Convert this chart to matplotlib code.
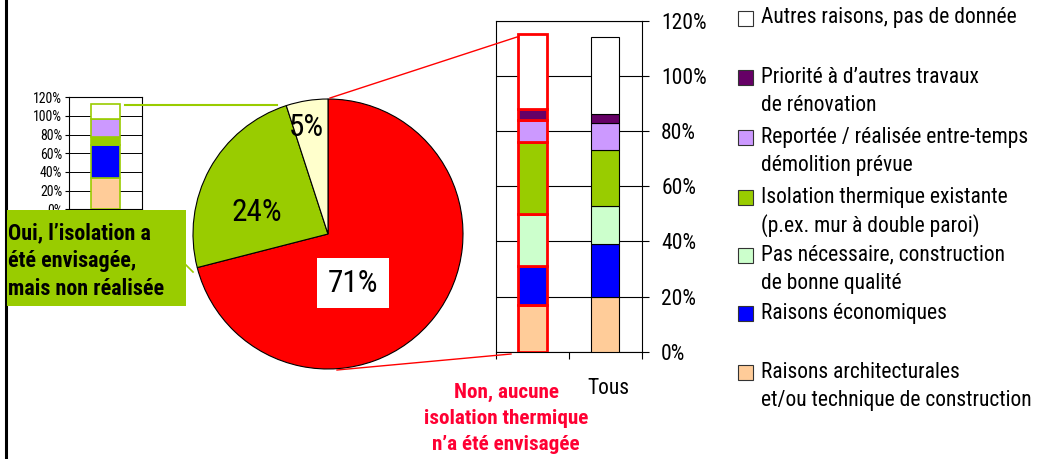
import matplotlib
matplotlib.use("Agg")
import matplotlib.pyplot as plt
from matplotlib import font_manager as fm
from matplotlib.patches import Rectangle
from matplotlib.lines import Line2D

# ---------------- data ----------------
pie_values = [71, 24, 5]
pie_colors = ['#FF0000', '#99CC00', '#FFFFCC']
pie_texts = ['71%', '24%', '5%']

reasons = [
    "Raisons architecturales\net/ou technique de construction",
    "Raisons économiques",
    "Pas nécessaire, construction\nde bonne qualité",
    "Isolation thermique existante\n(p.ex. mur à double paroi)",
    "Reportée / réalisée entre-temps\ndémolition prévue",
    "Priorité à d’autres travaux\nde rénovation",
    "Autres raisons, pas de donnée",
]
reason_colors = ['#FFCC99', '#0000FF', '#CCFFCC', '#99CC00', '#CC99FF', '#660066', '#FFFFFF']

categories = ['Non', 'Tous']
non_values = [17, 14, 19, 26, 8, 4, 27]
tous_values = [20, 19, 14, 20, 10, 3, 28]
oui_values = [34, 35, 0, 8, 20, 0, 16]

yticks = [0, 20, 40, 60, 80, 100, 120]
ytick_labels = ['0%', '20%', '40%', '60%', '80%', '100%', '120%']

non_label = ["Non, aucune", "isolation thermique", "n’a été envisagée"]
oui_label = ["Oui, l’isolation a", "été envisagée,", "mais non réalisée"]

# ---------------- fonts ----------------
names = {f.name for f in fm.fontManager.ttflist}
FONT = None
SC = 1.0
for cand in ['Liberation Sans Narrow', 'Arial Narrow', 'Roboto Condensed',
             'Nimbus Sans Narrow', 'Open Sans Condensed']:
    if cand in names:
        FONT = dict(family=cand)
        break
if FONT is None:
    cond = [f for f in fm.fontManager.ttflist
            if f.name == 'DejaVu Sans' and str(f.stretch) in ('condensed', 'semi-condensed', '75', '87')]
    if cond:
        FONT = dict(family='DejaVu Sans', stretch='condensed')
        SC = 0.88
    else:
        FONT = dict(family='Liberation Sans')
        SC = 0.85


def fs(v):
    return v * SC


W, H = 1042, 459
fig = plt.figure(figsize=(W / 100, H / 100), dpi=100)
fig.patch.set_facecolor('white')


def ax_px(x0, y0, x1, y1, **kw):
    return fig.add_axes([x0 / W, 1 - y1 / H, (x1 - x0) / W, (y1 - y0) / H], **kw)


def fx(x):
    return x / W


def fy(y):
    return 1 - y / H


# ---------------- small bar chart (Oui) ----------------
axs = ax_px(69.3, 97.3, 141.7, 209.3)
bottom = 0
for v, c in zip(oui_values, reason_colors):
    if v > 0:
        axs.bar(0, v, width=0.4, bottom=bottom, color=c, edgecolor='#99CC00', linewidth=1.2, zorder=3)
    bottom += v
axs.set_xlim(-0.5, 0.5)
axs.set_ylim(0, 120)
axs.set_yticks(yticks)
axs.set_yticklabels(ytick_labels, fontsize=fs(10), **FONT)
axs.set_xticks([])
axs.tick_params(axis='y', length=3, width=0.8, pad=2, colors='black')
for y in yticks:
    axs.axhline(y, color='black', linewidth=0.7, zorder=1)
for s in axs.spines.values():
    s.set_linewidth(0.8)

# ---------------- pie ----------------
R = 135 * 1.02
axp = ax_px(328 - R, 234 - R, 328 + R, 234 + R)
axp.pie(pie_values, colors=pie_colors, startangle=90, counterclock=False, radius=1,
        wedgeprops=dict(edgecolor='black', linewidth=0.8))
axp.set_xlim(-1.02, 1.02)
axp.set_ylim(-1.02, 1.02)
axp.set_aspect('equal')
axp.axis('off')
pie_label_pos = [(0.185, -0.363), (-0.526, 0.156), (-0.163, 0.79)]
for (x, y), t in zip(pie_label_pos, pie_texts):
    kw = {}
    if t == '71%':
        kw['bbox'] = dict(boxstyle='square,pad=0.33', facecolor='white', edgecolor='none')
    axp.text(x, y, t, ha='center', va='center', fontsize=fs(22.5), color='black', **FONT, **kw)

# ---------------- main stacked bars ----------------
axm = ax_px(496, 20.7, 641.7, 351.7)
for i, (vals, ec, lw) in enumerate([(non_values, '#FF0000', 2.0), (tous_values, 'black', 0.8)]):
    bottom = 0
    for v, c in zip(vals, reason_colors):
        axm.bar(i, v, width=0.39, bottom=bottom, color=c, edgecolor=ec, linewidth=lw, zorder=3)
        bottom += v
axm.set_xlim(-0.5, 1.5)
axm.set_ylim(0, 120)
axm.set_yticks(yticks)
axm.yaxis.tick_right()
axm.set_yticklabels(ytick_labels, fontsize=fs(15.5), **FONT)
axm.tick_params(axis='y', length=5, width=0.8, pad=9, direction='out')
axm.set_xticks([-0.5, 0.5, 1.5])
axm.set_xticklabels([])
axm.tick_params(axis='x', length=5, width=0.8, direction='out')
for y in yticks:
    axm.axhline(y, color='black', linewidth=0.8, zorder=1)
for s in axm.spines.values():
    s.set_linewidth(0.8)

# category labels
fig.text(fx(608), fy(388), 'Tous', ha='center', va='center', fontsize=fs(15.5), **FONT)
for k, line in enumerate(non_label):
    fig.text(fx(506), fy(392 + 26 * k), line, ha='center', va='center', fontsize=fs(15.2),
             fontweight='bold', color='#FF0033', **FONT)

# ---------------- connectors ----------------
fig.add_artist(Line2D([fx(125), fx(277)], [fy(105), fy(105)], color='#99CC00', linewidth=1.5))
fig.add_artist(Line2D([fx(186), fx(193)], [fy(265), fy(272)], color='#99CC00', linewidth=1.2))
fig.add_artist(Line2D([fx(330), fx(517)], [fy(98), fy(37)], color='#FF0000', linewidth=1.0))
fig.add_artist(Line2D([fx(337), fx(511)], [fy(370), fy(354)], color='#FF0000', linewidth=1.0))

# left border line
fig.add_artist(Line2D([fx(5.5), fx(5.5)], [0, 1], color='black', linewidth=2.2))

# ---------------- green label box ----------------
fig.add_artist(Rectangle((fx(7), fy(306)), (186 - 7) / W, (306 - 210) / H,
                         transform=fig.transFigure, facecolor='#99CC00', edgecolor='none', zorder=5))
for k, line in enumerate(oui_label):
    fig.text(fx(8.5), fy(233 + 28 * k), line, ha='left', va='center', fontsize=fs(15.8),
             fontweight='bold', color='black', zorder=6, **FONT)

# ---------------- legend ----------------
legend_y = [372, 313.5, 255, 197, 137, 77.5, 18]
for lab, c, y in zip(reasons, reason_colors, legend_y):
    fig.add_artist(Rectangle((fx(738), fy(y + 7.5)), 15 / W, 15 / H, transform=fig.transFigure,
                             facecolor=c, edgecolor='#333333', linewidth=0.8))
    for k, line in enumerate(lab.split('\n')):
        fig.text(fx(761), fy(y + 28.3 * k), line, ha='left', va='center', fontsize=fs(15.5), **FONT)

fig.savefig('out.png', dpi=100)
